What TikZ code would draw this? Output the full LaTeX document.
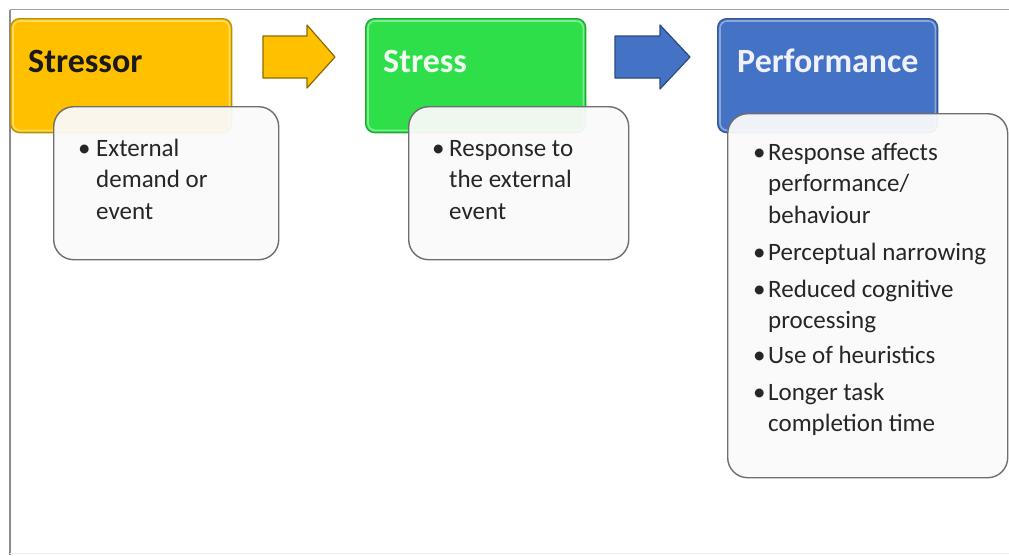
\documentclass[tikz,border=0pt]{standalone}
\usepackage{fontspec}
\setmainfont{Carlito}
\definecolor{stressorfill}{HTML}{FFC000}
\definecolor{stressorline}{HTML}{B8900A}
\definecolor{stressfill}{HTML}{2EDF4A}
\definecolor{stressline}{HTML}{1FA834}
\definecolor{perffill}{HTML}{4472C4}
\definecolor{perfline}{HTML}{34589A}
\definecolor{notefill}{HTML}{FAFAFA}
\definecolor{noteline}{HTML}{6E6E6E}
\definecolor{framegray}{HTML}{8C8C8C}
\newcommand{\bulletitem}[2]{\makebox[#1][l]{\textbullet}\begin{tabular}[t]{@{}l@{}}#2\end{tabular}}
\begin{document}
\begin{tikzpicture}[x=1pt,y=-1pt,
  headbox/.style={draw, rounded corners=9pt, line width=1.3pt, anchor=north west, inner sep=0pt},
  sheen/.style={rounded corners=7pt, line width=1.6pt, draw opacity=0.7},
  notebox/.style={draw=noteline, line width=1.4pt, rounded corners=20pt, fill=notefill,
    fill opacity=0.94, draw opacity=1, anchor=north west, inner sep=0pt},
  headtext/.style={anchor=base west, inner sep=0pt, font=\fontsize{34}{38}\selectfont\bfseries},
  bodytext/.style={anchor=base west, inner sep=0pt, font=\fontsize{25}{31.5}\selectfont, text=black!85},
  blockarrow/.style={line width=1.2pt, line join=round}]
\useasboundingbox (0,0) rectangle (1009,555);
\fill[white] (0,0) rectangle (1009,555);

% frame lines of the slide
\draw[framegray!80, line width=1pt] (9.5,9.5) -- (1009,9.5);
\draw[framegray, line width=2pt] (10,9.5) -- (10,555);
\draw[black!8, line width=0.8pt] (10,553.5) -- (1009,553.5);

% coloured heading boxes
\node[headbox, fill=stressorfill, draw=stressorline, minimum width=221pt, minimum height=114pt] (stressor) at (10,18) {};
\node[headbox, fill=stressfill, draw=stressline, minimum width=220pt, minimum height=114pt] (stress) at (365,18) {};
\node[headbox, fill=perffill, draw=perfline, minimum width=220pt, minimum height=114pt] (perf) at (717,18) {};

% light bevel just inside each heading box
\draw[sheen, draw=white!55!stressorfill] ([shift={(3,3)}]stressor.north west) rectangle ([shift={(-3,-3)}]stressor.south east);
\draw[sheen, draw=white!55!stressfill] ([shift={(3,3)}]stress.north west) rectangle ([shift={(-3,-3)}]stress.south east);
\draw[sheen, draw=white!55!perffill] ([shift={(3,3)}]perf.north west) rectangle ([shift={(-3,-3)}]perf.south east);

\node[headtext, text=black!90] (stressortitle) at (28,72) {Stressor};
\node[headtext, text=white!94!green] (stresstitle) at (383,72) {Stress};
\node[headtext, text=white!94!blue] (perftitle) at (737,72) {Performance};

% block arrows between the stages
\draw[blockarrow, fill=stressorfill, draw=black!45!stressorfill]
  (263,36) -- (307,36) -- (307,25) -- (335,57) -- (307,88) -- (307,78) -- (263,78) -- cycle;
\draw[blockarrow, fill=perffill, draw=black!35!perffill]
  (615,36) -- (660,36) -- (660,25) -- (690,57) -- (660,89) -- (660,78) -- (615,78) -- cycle;

% description boxes
\node[notebox, minimum width=225pt, minimum height=153pt] (stressornote) at (53,106) {};
\node[notebox, minimum width=220pt, minimum height=153pt] (stressnote) at (408,106) {};
\node[notebox, minimum width=280pt, minimum height=364pt] (perfnote) at (727,113) {};

\node[bodytext] (n1) at (78,156) {\bulletitem{18pt}{External\\demand or\\event}};
\node[bodytext] (n2) at (432,156) {\bulletitem{17pt}{Response to\\the external\\event}};

\node[bodytext] (p1) at (753,160) {\bulletitem{15pt}{Response affects\\performance/\\behaviour}};
\node[bodytext] (p2) at (753,260) {\bulletitem{15pt}{Perceptual narrowing}};
\node[bodytext] (p3) at (753,297) {\bulletitem{15pt}{Reduced cognitive\\processing}};
\node[bodytext] (p4) at (753,363) {\bulletitem{15pt}{Use of heuristics}};
\node[bodytext] (p5) at (753,400) {\bulletitem{15pt}{Longer task\\completion time}};
\end{tikzpicture}
\end{document}
